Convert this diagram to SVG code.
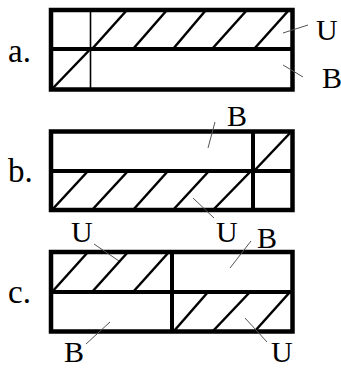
<svg xmlns="http://www.w3.org/2000/svg" width="341" height="369" viewBox="0 0 341 369">
<style>
.box{fill:none;stroke:#000;stroke-width:4.5}
.thick{stroke:#000;stroke-width:4}
.thin{stroke:#000;stroke-width:1.6}
.hatch{stroke:#000;stroke-width:2.5}
.lead{stroke:#555;stroke-width:1}
text{font-family:"Liberation Serif","Times New Roman",serif;font-size:30px;fill:#000}
.tag{font-size:33px}
</style>
<rect width="341" height="369" fill="#fff"/>
<g id="panel-a">
<rect class="box" x="51" y="10" width="241.5" height="79.5"/>
<line class="thick" x1="51" y1="49" x2="292.5" y2="49"/>
<line class="thin" x1="90.5" y1="10" x2="90.5" y2="89.5"/>
<line class="hatch" x1="92" y1="49" x2="127" y2="10"/>
<line class="hatch" x1="133" y1="49" x2="167" y2="10"/>
<line class="hatch" x1="173" y1="49" x2="206" y2="10"/>
<line class="hatch" x1="212" y1="49" x2="247" y2="10"/>
<line class="hatch" x1="254" y1="49" x2="289" y2="10"/>
<line class="hatch" x1="52" y1="89" x2="90.5" y2="49"/>
<text class="tag" x="8" y="62">a.</text>
<text x="316" y="40">U</text>
<text x="322" y="88">B</text>
</g>
<g id="panel-b">
<rect class="box" x="51" y="131.5" width="241.5" height="78.5"/>
<line class="thick" x1="51" y1="171" x2="292.5" y2="171"/>
<line class="thick" x1="253" y1="131.5" x2="253" y2="210"/>
<line class="hatch" x1="52" y1="210" x2="88" y2="171"/>
<line class="hatch" x1="92" y1="210" x2="128" y2="171"/>
<line class="hatch" x1="133" y1="210" x2="168" y2="171"/>
<line class="hatch" x1="173" y1="210" x2="209" y2="171"/>
<line class="hatch" x1="213" y1="210" x2="251" y2="171"/>
<line class="hatch" x1="254" y1="171" x2="291" y2="132"/>
<text class="tag" x="8" y="182">b.</text>
<text x="227" y="126">B</text>
<text x="216" y="242">U</text>
</g>
<g id="panel-c">
<rect class="box" x="51" y="252" width="241.5" height="79.5"/>
<line class="thick" x1="51" y1="292" x2="292.5" y2="292"/>
<line class="thick" x1="172" y1="252" x2="172" y2="331.5"/>
<line class="hatch" x1="52" y1="292" x2="88" y2="252"/>
<line class="hatch" x1="92" y1="292" x2="128" y2="252"/>
<line class="hatch" x1="133" y1="292" x2="169" y2="252"/>
<line class="hatch" x1="174" y1="331" x2="208" y2="292"/>
<line class="hatch" x1="213" y1="331" x2="250" y2="292"/>
<line class="hatch" x1="255" y1="331" x2="290" y2="292"/>
<text class="tag" x="8" y="303">c.</text>
<text x="71" y="242">U</text>
<text x="257" y="248">B</text>
<text x="64" y="362">B</text>
<text x="271" y="362">U</text>
</g>
<g id="connectors">
<line class="lead" x1="283" y1="33" x2="308" y2="25"/>
<line class="lead" x1="283" y1="65" x2="303" y2="77"/>
<line class="lead" x1="215" y1="122" x2="208" y2="148"/>
<line class="lead" x1="193" y1="198" x2="214" y2="218"/>
<line class="lead" x1="94" y1="244" x2="119" y2="261"/>
<line class="lead" x1="251" y1="241" x2="230" y2="268"/>
<line class="lead" x1="86" y1="344" x2="110" y2="322"/>
<line class="lead" x1="267" y1="342" x2="245" y2="318"/>
</g>
</svg>
